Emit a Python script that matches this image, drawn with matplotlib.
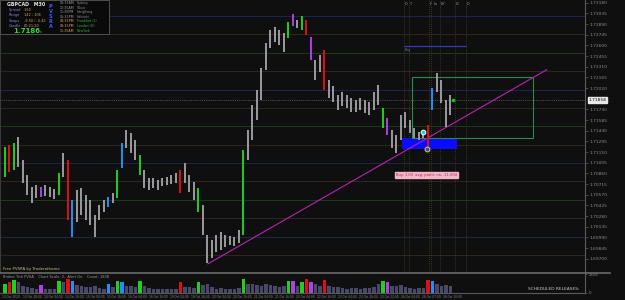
import numpy as np
import matplotlib
matplotlib.use("Agg")
import matplotlib.pyplot as plt
from matplotlib.patches import Rectangle
from matplotlib.lines import Line2D
import matplotlib.transforms as mtransforms

# ---------------- data ----------------
highs = [1.71219, 1.71246, 1.71273, 1.71355, 1.71042, 1.70838, 1.70675, 1.70702, 1.70675, 1.70702,
         1.70675, 1.70648, 1.70865, 1.71137, 1.71042, 1.70498, 1.70634, 1.70661, 1.70566, 1.70498,
         1.70294, 1.70430, 1.70498, 1.70539, 1.70593, 1.70906, 1.71273, 1.71450, 1.71409, 1.71314,
         1.71110, 1.70906, 1.70797, 1.70797, 1.70770, 1.70797, 1.70811, 1.70838, 1.70865, 1.70906,
         1.71001, 1.70838, 1.70743, 1.70661, 1.70430, 1.70022, 1.69954, 1.70022, 1.70062, 1.70022,
         1.70008, 1.69994, 1.70090, 1.71178, 1.71450, 1.71790, 1.71994, 1.72293, 1.72633, 1.72810,
         1.72851, 1.72810, 1.72769, 1.72919, 1.73028, 1.72946, 1.73000, 1.72946, 1.72715, 1.72402,
         1.72470, 1.72538, 1.72130, 1.72048, 1.71926, 1.71966, 1.71926, 1.71885, 1.71858, 1.71885,
         1.71858, 1.71831, 1.71966, 1.72062, 1.71749, 1.71613, 1.71450, 1.71382, 1.71654, 1.71695,
         1.71586, 1.71477, 1.71423, 1.71450, 1.71518, 1.72021, 1.72225, 1.72130, 1.71858, 1.71926]
lows = [1.70811, 1.70878, 1.70906, 1.70946, 1.70729, 1.70566, 1.70457, 1.70525, 1.70539, 1.70552,
        1.70539, 1.70512, 1.70566, 1.70811, 1.70226, 1.69994, 1.70199, 1.70294, 1.70226, 1.70158,
        1.69994, 1.70226, 1.70335, 1.70403, 1.70457, 1.70525, 1.70933, 1.71205, 1.71137, 1.71042,
        1.70838, 1.70661, 1.70634, 1.70661, 1.70634, 1.70688, 1.70702, 1.70716, 1.70729, 1.70593,
        1.70729, 1.70607, 1.70498, 1.70335, 1.70022, 1.69641, 1.69710, 1.69791, 1.69818, 1.69859,
        1.69886, 1.69872, 1.69913, 1.70022, 1.71042, 1.71314, 1.71586, 1.71858, 1.72266, 1.72565,
        1.72647, 1.72606, 1.72511, 1.72701, 1.72864, 1.72837, 1.72810, 1.72742, 1.72402, 1.72130,
        1.72239, 1.71994, 1.71885, 1.71831, 1.71722, 1.71776, 1.71749, 1.71695, 1.71695, 1.71722,
        1.71681, 1.71654, 1.71722, 1.71790, 1.71477, 1.71382, 1.71205, 1.71137, 1.71314, 1.71477,
        1.71409, 1.71341, 1.71314, 1.71341, 1.71178, 1.71722, 1.71966, 1.71817, 1.71491, 1.71654]
# PVSRA vector type: 0 normal, 1 climax bull, 2 climax bear, 3 rising bull, 4 rising bear
vector_type = [1, 2, 1, 0, 0, 0, 0, 0, 4, 0,
               0, 0, 1, 0, 2, 3, 0, 0, 0, 0,
               0, 0, 0, 3, 0, 1, 3, 0, 0, 0,
               1, 0, 0, 0, 0, 0, 0, 0, 0, 2,
               0, 0, 0, 1, 0, 0, 0, 0, 0, 0,
               0, 0, 0, 1, 0, 0, 0, 0, 0, 0,
               0, 0, 0, 1, 4, 0, 1, 2, 4, 0,
               0, 2, 0, 0, 0, 0, 0, 0, 0, 0,
               0, 0, 0, 0, 1, 4, 0, 0, 0, 0,
               0, 0, 0, 0, 2, 3, 0, 0, 0, 0]
volumes = [1500, 1700, 2100, 1800, 1200, 900, 800, 700, 1300, 700,
           650, 600, 1900, 1700, 2300, 2000, 1300, 1100, 900, 1000,
           1200, 800, 700, 1400, 900, 1900, 1800, 1200, 1100, 1000,
           2000, 1100, 800, 700, 600, 650, 600, 700, 650, 1700,
           1000, 900, 800, 1800, 1300, 1400, 900, 700, 800, 700,
           650, 700, 800, 2200, 1500, 1400, 1300, 1200, 1500, 1300,
           1100, 1000, 1100, 2000, 1900, 1200, 1700, 2200, 1700, 1400,
           1200, 2100, 1200, 1000, 900, 800, 700, 750, 800, 700,
           750, 800, 900, 1500, 2000, 1800, 1200, 1100, 1300, 900,
           800, 700, 800, 750, 2100, 2000, 1400, 1200, 1300, 1100]
volume_max = 2658
last_price = 1.71858

levels = [1.7300, 1.7275, 1.7250, 1.7225, 1.7200, 1.7175, 1.7150,
          1.7125, 1.7100, 1.7075, 1.7050, 1.7025, 1.7000, 1.6975]
price_ticks = [1.73180, 1.73035, 1.72890, 1.72745, 1.72600, 1.72455, 1.72310, 1.72165,
               1.72020, 1.71730, 1.71585, 1.71440, 1.71295, 1.71150, 1.71005, 1.70860,
               1.70715, 1.70570, 1.70425, 1.70280, 1.70135, 1.69990, 1.69845, 1.69700]

session_x = [88.7, 89.8, 94.2, 94.7, 96.7, 100.0, 102.4]
session_labels = ["D", "T", "F", "Lo", "NY", "LC", "D"]
range_level = 1.72592
trend_x = [45.1, 120.4]
trend_y = [1.6963, 1.7227]
box_x = [90.4, 117.3]
box_y = [1.71341, 1.72171]
zone_x = [88.2, 100.4]
zone_y = [1.71192, 1.71341]
entry_point = (92.9, 1.71423)
stop_point = (93.8, 1.71192)
signal_point = (99.6, 1.71858)

date_labels = ["13 Oct 2020", "13 Oct 16:00", "14 Oct 04:00", "14 Oct 16:00", "15 Oct 04:00",
               "15 Oct 16:00", "16 Oct 04:00", "16 Oct 16:00", "19 Oct 04:00", "19 Oct 16:00",
               "20 Oct 04:00", "20 Oct 16:00", "21 Oct 04:00", "21 Oct 16:00", "22 Oct 04:00",
               "22 Oct 16:00", "23 Oct 04:00", "23 Oct 16:00", "23 Oct 22:00", "26 Oct 04:00",
               "26 Oct 07:00", "26 Oct 10:00"]

info_names = ["Spread", "Range", "Swaps", "Candle"]
info_values = ["1.60", "142 : 106", "-9.50 / -0.42", "00:21:20"]
market_times = ["02:35AM", "12:35AM", "11:35PM", "05:35PM", "04:35PM", "03:35PM", "11:35AM"]
market_names = ["Sydney", "Tokyo", "HongKong", "Helsinki", "Frankfurt (L)", "London (O)", "NewYork"]
market_open = [False, False, False, False, True, True, True]

# ---------------- figure ----------------
W, H = 625, 300
BG = '#0f0f0f'
fig = plt.figure(figsize=(6.25, 3.0), dpi=100, facecolor=BG)


def fx(x):
    return x / W


def fy(y):
    return 1 - y / H


ax = fig.add_axes([0, fy(272), fx(585), 272 / H])
ax.set_facecolor(BG)
ax.set_xlim(-1.11, 128.9)
ax.set_ylim(1.69519, 1.73218)

level_colors = {0: '#1a264d', 50: '#173d17', 25: '#33251a', 75: '#33251a'}
for lv in levels:
    key = int(round(lv * 10000)) % 100
    ax.axhline(lv, color=level_colors[key], lw=0.7, zorder=1)

ax.axhline(last_price, color='#5e5e5e', lw=0.6, ls=(0, (1, 1.2)), zorder=1)

for sx in session_x:
    ax.axvline(sx, color='#44441f', lw=0.6, ls=(0, (1, 1.5)), zorder=1)
tr = mtransforms.blended_transform_factory(ax.transData, ax.transAxes)
for k, (sx, lab) in enumerate(zip(session_x, session_labels)):
    off = 0.6 if lab == "Lo" else 0.2
    ax.text(sx + off, 0.992, lab, transform=tr, fontsize=2.4, color='#9a9a9a',
            va='top', ha='left')

ax.hlines(range_level, session_x[0], session_x[-1], color='#3434d8', lw=0.9, zorder=2)
ax.text(session_x[0] + 0.2, range_level - 0.0002, "Rng", fontsize=2.3, color='#7a7a7a',
        va='top', ha='left')

ax.add_patch(Rectangle((zone_x[0], zone_y[0]), zone_x[1] - zone_x[0], zone_y[1] - zone_y[0],
                       fc='#0b0bff', ec='none', zorder=2))
ax.add_patch(Rectangle((box_x[0], box_y[0]), box_x[1] - box_x[0], box_y[1] - box_y[0],
                       fill=False, ec='#2e8a50', lw=0.8, zorder=2))
ax.plot(trend_x, trend_y, color='#b424b4', lw=0.8, zorder=2)

cmap = {0: '#9a9aa0', 1: '#1fd01f', 2: '#e01010', 3: '#2090ff', 4: '#b040e8'}
idx = np.arange(len(highs))
ax.vlines(idx, lows, highs, colors=[cmap[v] for v in vector_type], lw=1.4, zorder=3)

ax.plot(*entry_point, 'o', mfc='#20c8e8', mec='white', ms=3.4, mew=0.7, zorder=5)
ax.plot(*stop_point, 'o', mfc='#2040ff', mec='#e0c020', ms=3.4, mew=0.8, zorder=5)
ax.plot(*signal_point, 's', color='#00d000', ms=1.5, zorder=5)

ax.text(93.6, 1.70838, "Buy: 1.03  avg. profit: nn, -11.504", fontsize=2.6, color='#d01840',
        ha='center', va='center', zorder=6,
        bbox=dict(boxstyle='square,pad=0.25', fc='#f2b6cc', ec='#f2b6cc'))

# right price axis
ax.yaxis.tick_right()
ax.set_yticks(price_ticks)
ax.set_yticklabels([f"{t:.5f}" for t in price_ticks])
ax.tick_params(axis='y', colors='#5a5a5a', labelcolor='#8c8c8c', labelsize=3.2,
               length=2, width=0.5, pad=1.5)
ax.set_xticks([])
for s in ['top', 'bottom']:
    ax.spines[s].set_visible(False)
ax.spines['right'].set_color('#5a5a5a')
ax.spines['right'].set_linewidth(0.8)
ax.spines['left'].set_color('#3a3a3a')
ax.spines['left'].set_linewidth(0.8)

ytr = mtransforms.blended_transform_factory(ax.transAxes, ax.transData)
ax.text(1.006, last_price, f"{last_price:.5f}", transform=ytr, fontsize=3.2, color='#101010',
        va='center', ha='left', bbox=dict(boxstyle='square,pad=0.2', fc='#e8e8e8', ec='#e8e8e8'))

# ---------------- volume panel ----------------
vax = fig.add_axes([0, fy(293), fx(585), 19 / H])
vax.set_facecolor(BG)
vax.set_xlim(-1.11, 128.9)
vax.set_ylim(0, volume_max * 1.15)
vcmap = {0: '#484868', 1: '#1fd01f', 2: '#e01010', 3: '#2090ff', 4: '#b040e8'}
vax.bar(idx, volumes, width=0.7, color=[vcmap[v] for v in vector_type], zorder=2)
vax.yaxis.tick_right()
vax.set_yticks([0, volume_max * 1.15])
vax.set_yticklabels(["0", str(volume_max)])
vax.tick_params(axis='y', colors='#5a5a5a', labelcolor='#8c8c8c', labelsize=2.8,
                length=1.5, width=0.5, pad=1.5)
vax.set_xticks([])
for s in ['top', 'left']:
    vax.spines[s].set_visible(False)
vax.spines['bottom'].set_color('#5a5a5a')
vax.spines['right'].set_color('#5a5a5a')

vax.text(0.005, 0.97, "Broker Tick PVSA    Chart Scale: 2,  Alert On,   Count: 1838",
         transform=vax.transAxes, fontsize=2.6, color='#9a9a9a', va='top', ha='left', zorder=4)

# separator between panels
fig.add_artist(Line2D([0, fx(610)], [fy(273), fy(273)], color='#6a6a6a', lw=1.2))
fig.text(fx(3), fy(269), "Free PVSRA by Traderathome", fontsize=2.8, color='#cfc060',
         va='center', ha='left')
fig.text(fx(580), fy(289), "SCHEDULED RELEASES:", fontsize=3.2, color='#c8c8c8',
         va='center', ha='right')

# date labels along the time axis
for k, lab in enumerate(date_labels):
    fig.text(fx(2 + 21 * k), fy(296.5), lab, fontsize=2.1, color='#8c8c8c', va='center', ha='left')

# ---------------- info box ----------------
fig.add_artist(Rectangle((0, fy(34)), fx(109), 34 / H, transform=fig.transFigure,
                         fc='#0a0a0a', ec='#5a5a5a', lw=0.6, zorder=5))
fig.text(fx(7), fy(4.5), "GBPCAD   M30", fontsize=3.4, color='#e8e8e8', weight='bold',
         va='center', ha='left', zorder=6)
for r, (nm, val) in enumerate(zip(info_names, info_values)):
    fig.text(fx(9), fy(10 + 5.3 * r), nm, fontsize=2.5, color='#7f86d8', va='center',
             ha='left', zorder=6)
    fig.text(fx(24), fy(10 + 5.3 * r), val, fontsize=2.5, color='#c8a866', va='center',
             ha='left', zorder=6)
fig.text(fx(13), fy(31), f"{last_price:.4f}", fontsize=5.0, color='#38d838', weight='bold',
         va='center', ha='left', zorder=6)
fig.text(fx(40), fy(32), "s", fontsize=2.4, color='#9a9a9a', va='center', ha='left', zorder=6)
for r, ch in enumerate("PVSRA"):
    fig.text(fx(50.5), fy(6 + 5.2 * r), ch, fontsize=3.6, color='#3a5aff', weight='bold',
             va='center', ha='center', zorder=6)
for r, (tm, nm, op) in enumerate(zip(market_times, market_names, market_open)):
    yy = fy(3 + 4.6 * r)
    fig.text(fx(60), yy, tm, fontsize=2.3, color='#d8a060' if op else '#9a9a9a',
             va='center', ha='left', zorder=6)
    fig.text(fx(77), yy, nm, fontsize=2.3, color='#34b034' if op else '#8a8a8a',
             va='center', ha='left', zorder=6)

fig.savefig("out.png", dpi=100, facecolor=BG)
